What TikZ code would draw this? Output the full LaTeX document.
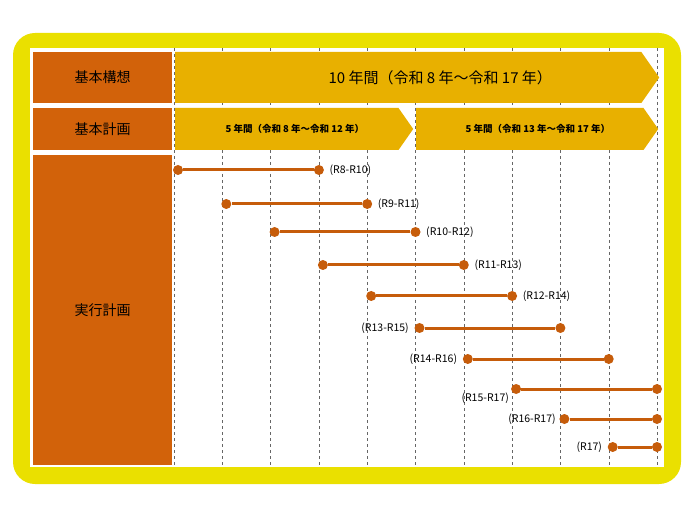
\documentclass[tikz,border=0pt]{standalone}
\usepackage{fontspec}
\setmainfont{Noto Sans CJK JP}
\usetikzlibrary{arrows.meta,positioning,shapes.geometric,shapes.symbols,calc}
\definecolor{frameyellow}{RGB}{234,224,0}
\definecolor{headorange}{RGB}{210,98,10}
\definecolor{bargold}{RGB}{232,176,0}
\definecolor{dotorange}{RGB}{198,92,10}

\begin{document}
\begin{tikzpicture}[
    x=1pt, y=-1pt,
    head/.style={
        rectangle, fill=headorange, minimum width=139pt,
        align=center, font=\fontsize{14}{16}\selectfont
    },
    period/.style={
        signal, signal to=east, signal pointer angle=110, fill=bargold,
        inner sep=0pt, anchor=west
    },
    dot/.style={circle, fill=dotorange, inner sep=0pt, minimum size=10pt},
    span/.style={line width=3pt, dotorange},
    tag/.style={font=\fontsize{10.5}{12}\selectfont}
]

\useasboundingbox (0,0) rectangle (690,518);

% Frame
\fill[frameyellow, rounded corners=22pt] (13,33) rectangle (681,484);
\fill[white] (30,48) rectangle (664,467);

% Year grid
\foreach \i in {0,...,10} {
    \draw[dashed, gray!80!black, thin] ({174+48.3*\i},48) -- ({174+48.3*\i},467);
}

% Row headings
\node[head, minimum height=51pt] (vision) at (102.5,77.5) {基本構想};
\node[head, minimum height=42pt] (plan)   at (102.5,129)  {基本計画};
\node[head, minimum height=310pt] (exec)  at (102.5,310)  {実行計画};

% Period arrows
\node[period, minimum width=484pt, minimum height=51pt,
      font=\fontsize{15}{17}\selectfont] (ten) at (175,77.5)
      {\hspace{64pt}10 年間（令和 8 年～令和 17 年）\hspace{140pt}};
\node[period, minimum width=238pt, minimum height=42pt,
      font=\fontsize{9.5}{11}\selectfont\bfseries] (fiveA) at (175,129)
      {\hspace{16pt}5 年間（令和 8 年～令和 12 年）\hspace{38pt}};
\node[period, minimum width=242pt, minimum height=42pt,
      font=\fontsize{9.5}{11}\selectfont\bfseries] (fiveB) at (416,129)
      {\hspace{16pt}5 年間（令和 13 年～令和 17 年）\hspace{36pt}};

% Implementation plans: start/end/row y
\foreach \a/\b/\y [count=\n] in {
    0/3/170, 1/4/204, 2/5/232, 3/6/265, 4/7/296,
    5/8/328, 6/9/359, 7/10/389, 8/10/419, 9/10/447} {
    \node[dot] (s\n) at ({178+48.3*\a},\y) {};
    \node[dot] (e\n) at ({174+48.3*\b},\y) {};
    \draw[span] (s\n) -- (e\n);
}
\node[tag, right=2pt of e1] {(R8-R10)};
\node[tag, right=2pt of e2] {(R9-R11)};
\node[tag, right=2pt of e3] {(R10-R12)};
\node[tag, right=2pt of e4] {(R11-R13)};
\node[tag, right=2pt of e5] {(R12-R14)};
\node[tag, left=2pt of s6] {(R13-R15)};
\node[tag, left=2pt of s7] {(R14-R16)};
\node[tag, below left=-3pt and 0pt of s8] {(R15-R17)};
\node[tag, left=0pt of s9] {(R16-R17)};
\node[tag, left=2pt of s10] {(R17)};

\end{tikzpicture}
\end{document}
